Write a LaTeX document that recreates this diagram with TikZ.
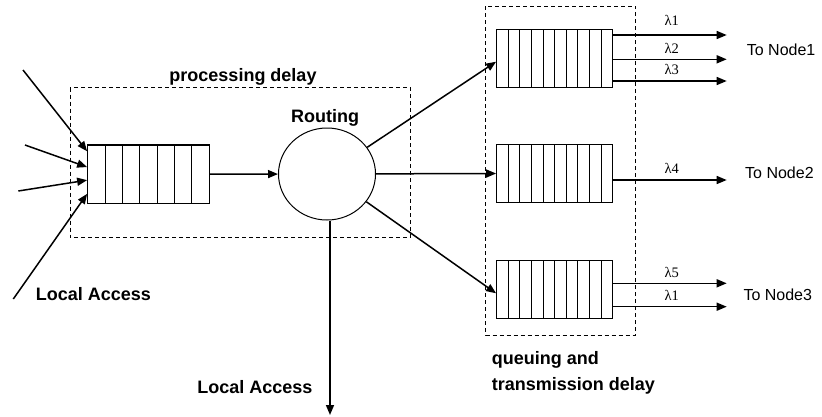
\documentclass[tikz,border=0pt]{standalone}
\usepackage{fontspec}
\setmainfont{Liberation Sans}
\newfontfamily\lamfont{Liberation Serif}
\usetikzlibrary{arrows.meta,calc,shapes.geometric}
\begin{document}
\begin{tikzpicture}[x=1pt,y=-1pt,
  arr/.style={line width=1.5pt,-{Triangle[length=10pt,width=8pt]}},
  dbox/.style={draw,line width=0.8pt,dash pattern=on 4pt off 3pt},
  qbase/.style={draw,line width=1.2pt,inner sep=0pt,minimum height=58.4pt},
  qin/.style={qbase,minimum width=121.6pt,
    path picture={\foreach \k in {1,...,6}{\draw[line width=1pt]
      ($(path picture bounding box.north west)!\k/7!(path picture bounding box.north east)$) --
      ($(path picture bounding box.south west)!\k/7!(path picture bounding box.south east)$);}}},
  qout/.style={qbase,minimum width=116pt,
    path picture={\foreach \k in {1,...,9}{\draw[line width=1pt]
      ($(path picture bounding box.north west)!\k/10!(path picture bounding box.north east)$) --
      ($(path picture bounding box.south west)!\k/10!(path picture bounding box.south east)$);}}},
  blbl/.style={font=\bfseries\fontsize{18}{21}\selectfont,inner sep=0pt},
  nlbl/.style={font=\fontsize{16}{19}\selectfont,inner sep=0pt},
  lam/.style={font=\lamfont\fontsize{14.5}{16}\selectfont,inner sep=0pt,anchor=base}
]
\useasboundingbox (0,0) rectangle (822,416);

% dashed boxes
\draw[dbox] (70,87.7) rectangle (410.7,237.3);
\draw[dbox] (485.7,6) rectangle (635.7,335);

% queues and router
\node[qin] (inq) at (148.5,174.2) {};
\node[draw,ellipse,line width=1pt,minimum width=97pt,minimum height=92pt,inner sep=0pt] (r) at (327,174) {};
\node[qout] (q1) at (554.7,58.5) {};
\node[qout] (q2) at (554.7,173.5) {};
\node[qout] (q3) at (554.7,289.5) {};

% labels
\node[blbl,anchor=base] (pd) at (243,81.7) {processing delay};
\node[blbl,anchor=base] (rt) at (325,122.7) {Routing};
\node[blbl,anchor=base] (la1) at (93.3,300.7) {Local Access};
\node[blbl,anchor=base] (la2) at (255,393.3) {Local Access};
\node[blbl,anchor=base west] (qd1) at (491.7,364) {queuing and};
\node[blbl,anchor=base west] (qd2) at (491.7,390.7) {transmission delay};

% input arrows
\coordinate (i1) at (23,70);
\coordinate (i2) at (25,145);
\coordinate (i3) at (18.3,191);
\coordinate (i4) at (13.3,299);
\draw[arr] (i1) -- ($(inq.north west)!0.115!(inq.south west)$);
\draw[arr] (i2) -- ($(inq.north west)!0.38!(inq.south west)$);
\draw[arr] (i3) -- ($(inq.north west)!0.6!(inq.south west)$);
\draw[arr] (i4) -- ($(inq.north west)!0.83!(inq.south west)$);

% queue to router
\draw[arr] (inq) -- (r);

% router to output queues
\draw[arr] (r) -- ([yshift=-3.2pt]q1.west);
\draw[arr] (r) -- (q2.west);
\draw[arr] (r) -- ([yshift=-3.8pt]q3.west);

% local access down
\coordinate (ld) at (330,415);
\draw[arr] (r.south -| ld) -- (ld);

% outputs
\coordinate (o1) at (726.7,35);
\coordinate (o2) at (726.7,59.3);
\coordinate (o3) at (726.7,81);
\coordinate (o4) at (726.7,180);
\coordinate (o5) at (726.7,283.3);
\coordinate (o6) at (726.7,306.7);
\draw[arr] (q1.east |- o1) -- (o1);
\draw[arr] (q1.east |- o2) -- (o2);
\draw[arr] (q1.east |- o3) -- (o3);
\draw[arr] (q2.east |- o4) -- (o4);
\draw[arr] (q3.east |- o5) -- (o5);
\draw[arr] (q3.east |- o6) -- (o6);

\node[lam] (l1) at (671.7,25) {λ1};
\node[lam] (l2) at (671.7,53.3) {λ2};
\node[lam] (l3) at (671.7,74) {λ3};
\node[lam] (l4) at (671.7,173.3) {λ4};
\node[lam] (l5) at (671.7,277.3) {λ5};
\node[lam] (l6) at (671.7,300.7) {λ1};

\node[nlbl,anchor=base west] (n1) at (746.7,55) {To Node1};
\node[nlbl,anchor=base west] (n2) at (745,178.3) {To Node2};
\node[nlbl,anchor=base west] (n3) at (743.3,300.7) {To Node3};
\end{tikzpicture}
\end{document}
